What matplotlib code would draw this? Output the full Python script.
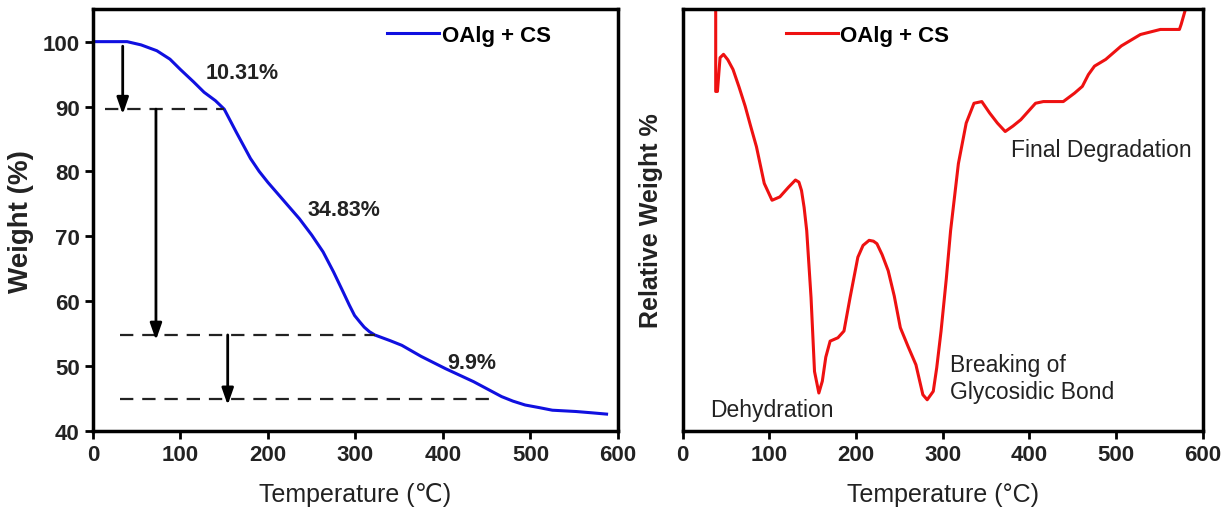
import matplotlib.pyplot as plt

plt.rcParams['font.family'] = ['Liberation Sans', 'DejaVu Sans']

# TGA curve (left panel)
tga_temp = [0, 20, 39, 55, 73, 88, 100, 115, 127, 140, 150, 157, 164, 172, 180, 190,
            200, 218, 236, 250, 263, 275, 286, 293, 299, 305, 310, 316, 322, 340, 353,
            375, 403, 435, 467, 480, 494, 510, 525, 552, 570, 587]
tga_weight = [100, 100, 100, 99.5, 98.6, 97.3, 95.7, 93.8, 92.2, 90.9, 89.6, 87.8, 86,
              84.0, 82, 80.0, 78.3, 75.5, 72.7, 70.2, 67.6, 64.5, 61.4, 59.4, 57.8,
              56.8, 56.0, 55.3, 54.8, 53.9, 53.2, 51.5, 49.6, 47.6, 45.3, 44.6, 44.0,
              43.6, 43.2, 43.0, 42.8, 42.6]

# step levels and the arrows between them
step_levels = [89.69, 54.86, 44.96]
step_x_start = [14, 31, 31]
step_x_end = [150, 322, 459]
arrow_x = [34, 72, 154]
arrow_top = [99.3, 89.6, 54.8]
arrow_bottom = [88.8, 54.0, 44.0]
step_labels = ['10.31%', '34.83%', '9.9%']
step_label_x = [171, 287, 433]
step_label_y = [95.2, 74.2, 50.6]

# DTG curve (right panel), relative units
dtg_temp = [38, 38, 40, 43, 47, 52, 58, 65, 72, 78, 85, 94, 103, 112, 122, 130, 134,
            137, 140, 143, 148, 152, 157, 161, 165, 170, 179, 186, 193, 202, 208, 215,
            220, 224, 230, 237, 244, 251, 260, 269, 277, 282, 289, 293, 298, 304, 309,
            318, 327, 336, 345, 354, 363, 372, 381, 390, 407, 416, 439, 452, 461, 468,
            475, 488, 506, 528, 551, 573, 575, 580, 583]
dtg_value = [110, 80.5, 80.5, 88.5, 89.3, 88.0, 85.7, 81.5, 77, 72.5, 67.4, 58.7,
             54.7, 55.5, 57.8, 59.5, 59.0, 57, 53, 47.5, 31.6, 14.1, 9, 11.8, 17.5,
             21.3, 22.1, 23.7, 31.6, 41.2, 44.0, 45.2, 45.0, 44.4, 41.8, 38, 32,
             24.5, 20, 15.7, 8.6, 7.4, 9.4, 15, 23.7, 36, 47.5, 63.4, 73, 77.7, 78.1,
             75.4, 73.0, 71, 72.3, 73.8, 77.7, 78.1, 78.1, 80.1, 81.7, 84.5, 86.5,
             88.1, 91.3, 94, 95.2, 95.2, 96.4, 100, 110]

dtg_notes = ['Dehydration', 'Breaking of\nGlycosidic Bond', 'Final Degradation']
dtg_note_x = [32, 308, 379]
dtg_note_y = [5, 12.5, 66.8]

fig = plt.figure(figsize=(12.28, 5.10), dpi=100)
ax1 = fig.add_axes([0.0757, 0.153, 0.4275, 0.827])
ax2 = fig.add_axes([0.556, 0.153, 0.4235, 0.827])

text_color = '#222222'

# left panel
ax1.plot(tga_temp, tga_weight, color='#1010e0', lw=2.2, label='OAlg + CS')
for lvl, xs, xe in zip(step_levels, step_x_start, step_x_end):
    ax1.plot([xs, xe], [lvl, lvl], color='#222222', lw=1.6, dashes=(6, 4))
for xa, yt, yb in zip(arrow_x, arrow_top, arrow_bottom):
    ax1.annotate('', xy=(xa, yb), xytext=(xa, yt),
                 arrowprops=dict(arrowstyle='-|>,head_width=0.35,head_length=1.0',
                                 color='black', lw=2, shrinkA=0, shrinkB=0))
for lab, xl, yl in zip(step_labels, step_label_x, step_label_y):
    ax1.text(xl, yl, lab, fontsize=15.5, fontweight='bold', color=text_color,
             ha='center', va='center')

ax1.set_xlim(0, 600)
ax1.set_ylim(40, 105)
ax1.set_xticks(range(0, 601, 100))
ax1.set_yticks(range(40, 101, 10))
ax1.set_xlabel('Temperature (\u2103)', fontsize=18, color=text_color, labelpad=12)
ax1.set_ylabel('Weight (%)', fontsize=20, fontweight='bold', color=text_color, labelpad=6)
ax1.legend(loc='upper right', frameon=False, handlelength=2.35,
           handletextpad=0.1, bbox_to_anchor=(0.91, 1.01), prop={'weight': 'bold', 'size': 16})

# right panel
ax2.plot(dtg_temp, dtg_value, color='#ee1111', lw=2.2, label='OAlg + CS')
for note, xn, yn in zip(dtg_notes, dtg_note_x, dtg_note_y):
    ax2.text(xn, yn, note, fontsize=16.5, color=text_color, ha='left', va='center',
             linespacing=1.2)
ax2.set_xlim(0, 600)
ax2.set_ylim(0, 100)
ax2.set_xticks(range(0, 601, 100))
ax2.set_yticks([])
ax2.set_xlabel('Temperature (\u00b0C)', fontsize=18, color=text_color, labelpad=12)
ax2.set_ylabel('Relative Weight %', fontsize=18, fontweight='bold', color=text_color, labelpad=14)
ax2.legend(loc='upper left', frameon=False, handlelength=2.35,
           handletextpad=0.1, bbox_to_anchor=(0.16, 1.01), prop={'weight': 'bold', 'size': 16})

for ax in (ax1, ax2):
    for sp in ax.spines.values():
        sp.set_linewidth(2.5)
    ax.tick_params(axis='both', which='major', direction='out', length=6, width=2,
                   labelsize=16, colors='black', labelcolor=text_color)
    for lbl in ax.get_xticklabels() + ax.get_yticklabels():
        lbl.set_fontweight('bold')

fig.savefig('out.png', dpi=100)
